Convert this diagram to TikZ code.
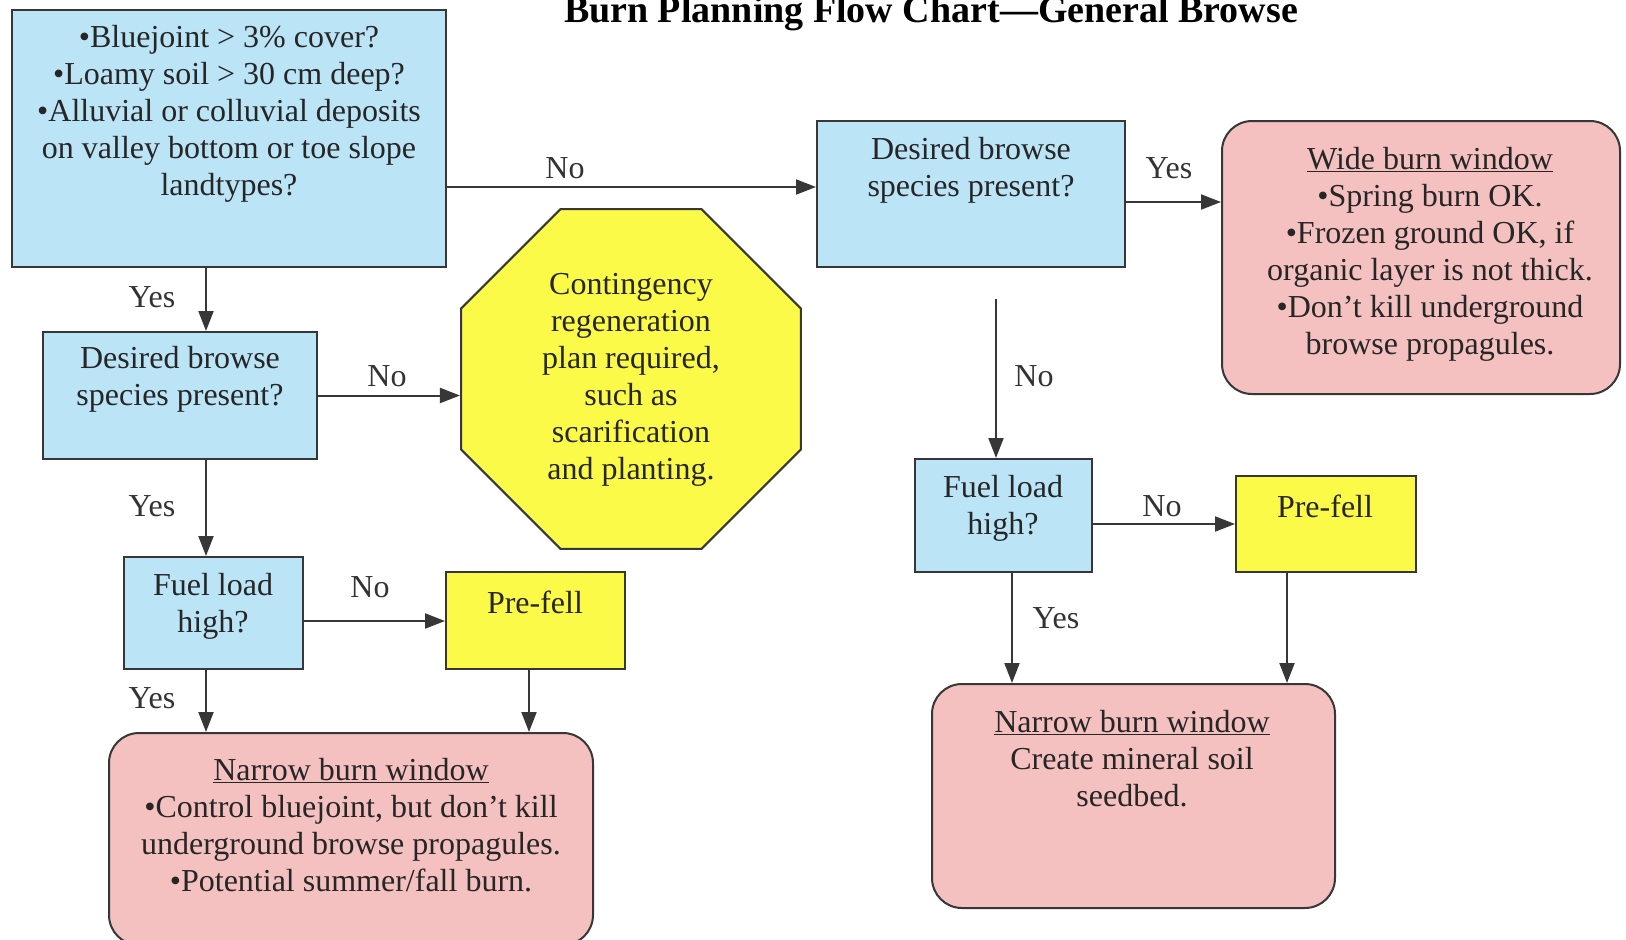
\documentclass[tikz,border=0pt]{standalone}
\usepackage{fontspec}
\setmainfont{Liberation Serif}
\usetikzlibrary{arrows.meta,shapes.geometric,positioning,calc}

\definecolor{qblue}{RGB}{188,228,247}
\definecolor{qpink}{RGB}{244,192,192}
\definecolor{qyellow}{RGB}{252,250,72}
\definecolor{qline}{RGB}{55,55,55}

\tikzset{
	box/.style={draw=qline, line width=2pt, inner sep=0pt},
	bluebox/.style={box, fill=qblue},
	yellowbox/.style={box, fill=qyellow},
	pinkbox/.style={box, fill=qpink, rounded corners=30pt},
	txt/.style={align=center, inner sep=0pt, text=black!85, font=\fontsize{32}{37}\selectfont},
	lbl/.style={inner sep=0pt, text=black!80, font=\fontsize{32}{37}\selectfont},
	arr/.style={draw=qline, line width=2pt, -{Triangle[length=20pt,width=15pt]}}
}

\begin{document}
\begin{tikzpicture}[x=1pt, y=-1pt]
		\useasboundingbox[fill=white] (0,0) rectangle (1626,940);

		\node[anchor=base, inner sep=0pt, font=\fontsize{38}{40}\selectfont\bfseries] (title) at (931,22) {Burn Planning Flow Chart—General Browse};

		% left branch
		\node[bluebox, minimum width=434, minimum height=257] (site) at (229,138.5) {};
		\node[txt] (sitetxt) at (229,114) {•Bluejoint > 3\% cover?\\•Loamy soil > 30 cm deep?\\•Alluvial or colluvial deposits\\on valley bottom or toe slope\\landtypes?};

		\node[bluebox, minimum width=274, minimum height=127] (browseL) at (180,395.5) {};
		\node[txt] (browseLtxt) at (180,379) {Desired browse\\species present?};

		\node[regular polygon, regular polygon sides=8, minimum size=368, box, fill=qyellow] (plan) at (631,379) {};
		\node[txt] (plantxt) at (631,380) {Contingency\\regeneration\\plan required,\\such as\\scarification\\and planting.};

		\node[bluebox, minimum width=179, minimum height=112] (fuelL) at (213.5,613) {};
		\node[txt] (fuelLtxt) at (213,606) {Fuel load\\high?};

		\node[yellowbox, minimum width=179, minimum height=97] (fellL) at (535.5,620.5) {};
		\node[txt] (fellLtxt) at (535,602) {Pre-fell};

		\node[pinkbox, minimum width=484, minimum height=212] (narrowL) at (351,839) {};
		\node[txt] (narrowLtxt) at (351,825) {\underline{Narrow burn window}\\•Control bluejoint, but don’t kill\\underground browse propagules.\\•Potential summer/fall burn.};

		% right branch
		\node[bluebox, minimum width=308, minimum height=146] (browseR) at (971,194) {};
		\node[txt] (browseRtxt) at (971,170) {Desired browse\\species present?};

		\node[pinkbox, minimum width=398, minimum height=273] (wide) at (1421,257.5) {};
		\node[txt] (widetxt) at (1430,254) {\underline{Wide burn window}\\•Spring burn OK.\\•Frozen ground OK, if\\organic layer is not thick.\\•Don’t kill underground\\browse propagules.};

		\node[bluebox, minimum width=177, minimum height=113] (fuelR) at (1003.5,515.5) {};
		\node[txt] (fuelRtxt) at (1003,508) {Fuel load\\high?};

		\node[yellowbox, minimum width=180, minimum height=96] (fellR) at (1326,524) {};
		\node[txt] (fellRtxt) at (1325,506) {Pre-fell};

		\node[pinkbox, minimum width=403, minimum height=224] (narrowR) at (1133.5,796) {};
		\node[txt] (narrowRtxt) at (1132,759) {\underline{Narrow burn window}\\Create mineral soil\\seedbed.};

		\coordinate (stubR) at (996,299);

		% connectors
		\draw[arr] ([yshift=-48.5pt]site.east) -- ([yshift=-48.5pt]site.east -| browseR.west);
		\draw[arr] ([yshift=-8pt]browseR.east) -- ([yshift=-8pt]browseR.east -| wide.west);
		\draw[arr] ([xshift=-23pt]site.south) -- ([xshift=-23pt]site.south |- browseL.north);
		\draw[arr] (browseL.east) -- (browseL.east -| plan.west);
		\draw[arr] ([xshift=26pt]browseL.south) -- ([xshift=26pt]browseL.south |- fuelL.north);
		\draw[arr] ([yshift=-8pt]fuelL.east) -- ([yshift=-8pt]fuelL.east -| fellL.west);
		\draw[arr] ([xshift=-7.5pt]fuelL.south) -- ([xshift=-7.5pt]fuelL.south |- narrowL.north);
		\draw[arr] ([xshift=-6.5pt]fellL.south) -- ([xshift=-6.5pt]fellL.south |- narrowL.north);
		\draw[arr] (stubR) -- (stubR |- fuelR.north);
		\draw[arr] ([yshift=-8.5pt]fuelR.east) -- ([yshift=-8.5pt]fuelR.east -| fellR.west);
		\draw[arr] ([xshift=8.5pt]fuelR.south) -- ([xshift=8.5pt]fuelR.south |- narrowR.north);
		\draw[arr] ([xshift=-39pt]fellR.south) -- ([xshift=-39pt]fellR.south |- narrowR.north);

		% branch labels
		\node[lbl] (l1) at (565,168) {No};
		\node[lbl] (l2) at (1169,168) {Yes};
		\node[lbl] (l3) at (152,297) {Yes};
		\node[lbl] (l4) at (387,376) {No};
		\node[lbl] (l5) at (152,506) {Yes};
		\node[lbl] (l6) at (370,587) {No};
		\node[lbl] (l7) at (152,698) {Yes};
		\node[lbl] (l8) at (1034,376) {No};
		\node[lbl] (l9) at (1162,506) {No};
		\node[lbl] (l10) at (1056,618) {Yes};
	\end{tikzpicture}
\end{document}
